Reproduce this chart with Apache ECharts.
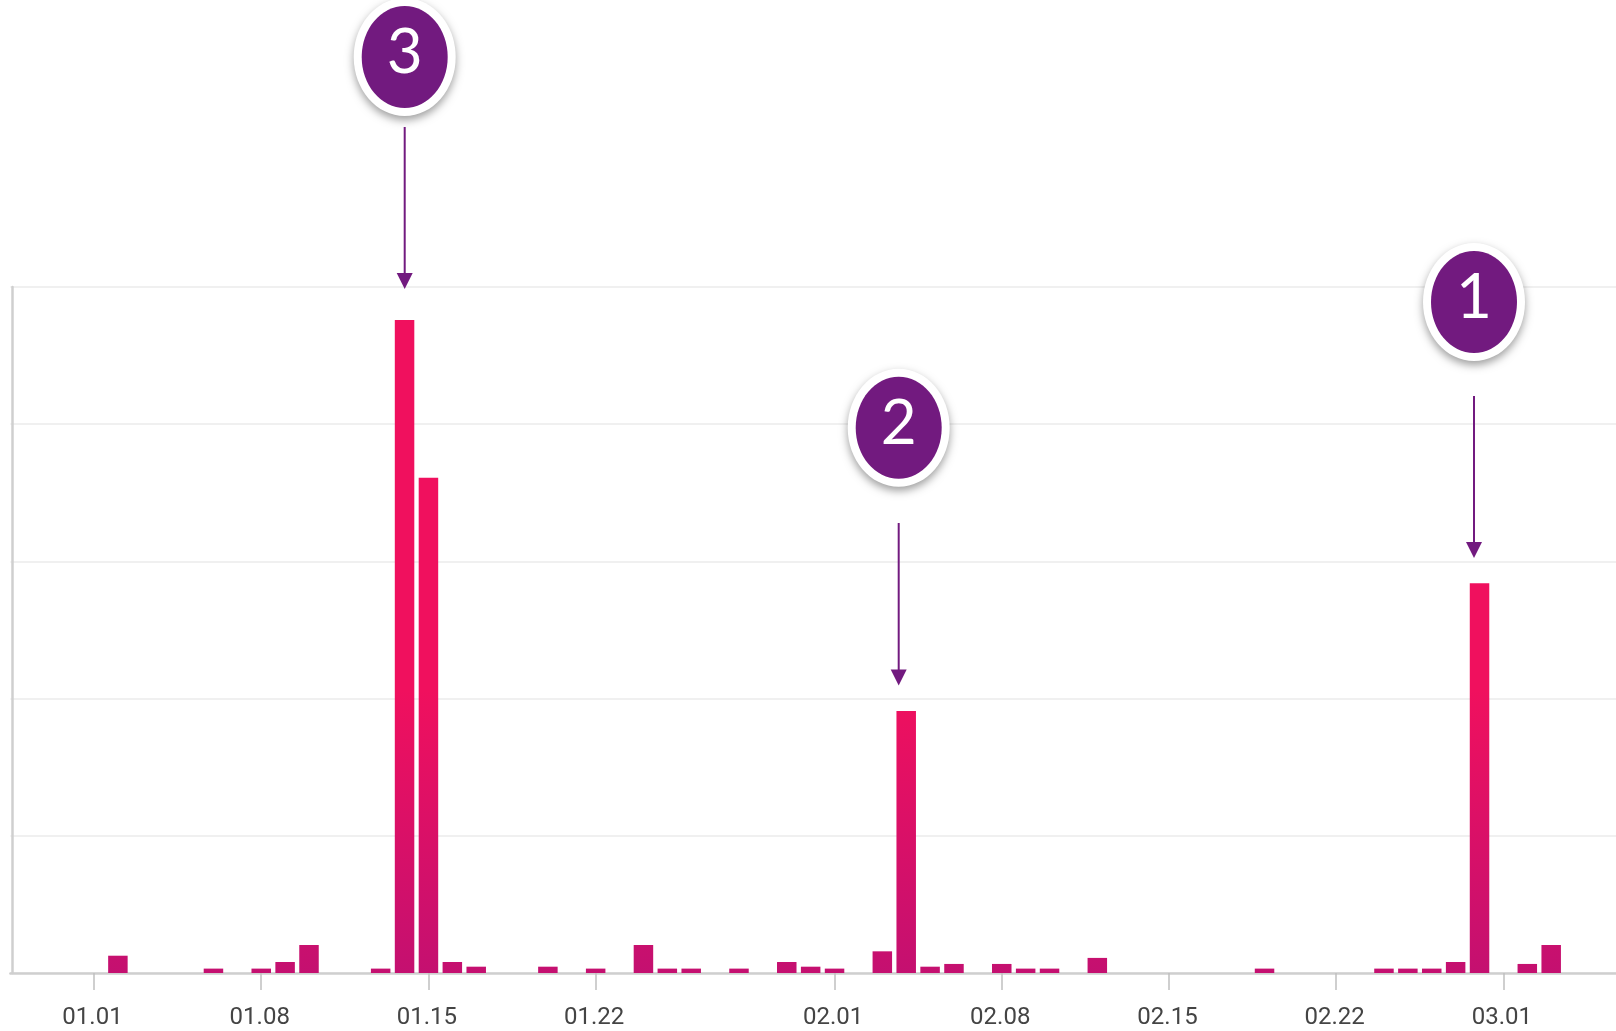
<!DOCTYPE html>
<html>
<head>
<meta charset="utf-8">
<style>html,body{margin:0;padding:0;background:#fff;overflow:hidden}#c{width:1616px;height:1031px}</style>
<script src="https://cdn.jsdelivr.net/npm/echarts@6/dist/echarts.min.js"></script>
</head>
<body>
<div id="c"></div>
<script>
const categories = [
  '12.29','12.30','12.31',
  '01.01','01.02','01.03','01.04','01.05','01.06','01.07','01.08','01.09','01.10',
  '01.11','01.12','01.13','01.14','01.15','01.16','01.17','01.18','01.19','01.20',
  '01.21','01.22','01.23','01.24','01.25','01.26','01.27','01.28','01.29','01.30','01.31',
  '02.01','02.02','02.03','02.04','02.05','02.06','02.07','02.08','02.09','02.10',
  '02.11','02.12','02.13','02.14','02.15','02.16','02.17','02.18','02.19','02.20',
  '02.21','02.22','02.23','02.24','02.25','02.26','02.27','02.28',
  '03.01','03.02','03.03','03.04','03.05','03.06'
];
const values = [
  0,0,0,
  0,12.6,0,0,0,3.2,0,3.2,8,20.4,
  0,0,3.2,476,361,8,4.6,0,0,4.6,
  0,3.2,0,20.4,3.2,3.2,0,3.2,0,8,4.6,
  3.2,0,15.8,191,4.6,6.6,0,6.6,3.2,3.2,
  0,11,0,0,0,0,0,0,3.2,0,
  0,0,0,3.2,3.2,3.2,8,284,
  0,6.6,20.4,0,0,0
];
const tickLabels = ['01.01','01.08','01.15','01.22','02.01','02.08','02.15','02.22','03.01'];
const calloutLabels = ['3','2','1'];

const PURPLE = '#721A7F';
const callouts = [
  {cx:404.7, cy:57,    y1:127, y2:289},
  {cx:898.7, cy:427.7, y1:523, y2:685.5},
  {cx:1474,  cy:302,   y1:396, y2:558}
];
const graphics = [];
callouts.forEach((c,i)=>{
  graphics.push({type:'ellipse',z:100,shape:{cx:c.cx,cy:c.cy,rx:51,ry:59},
    style:{fill:'#fff',shadowBlur:9,shadowColor:'rgba(0,0,0,0.38)',shadowOffsetY:4}});
  graphics.push({type:'ellipse',z:101,shape:{cx:c.cx,cy:c.cy,rx:43,ry:51},style:{fill:PURPLE}});
  graphics.push({type:'text',z:102,x:c.cx,y:c.cy-4,
    style:{text:calloutLabels[i],fill:'#fff',font:'400 62px Lato',align:'center',verticalAlign:'middle'}});
  graphics.push({type:'line',z:100,shape:{x1:c.cx,y1:c.y1,x2:c.cx,y2:c.y2-12},style:{stroke:PURPLE,lineWidth:2}});
  graphics.push({type:'polygon',z:100,shape:{points:[[c.cx-8,c.y2-16],[c.cx+8,c.y2-16],[c.cx,c.y2]]},style:{fill:PURPLE}});
});

const isTick = (i,v)=>tickLabels.includes(v);
const chart = echarts.init(document.getElementById('c'),null,{renderer:'canvas'});
chart.setOption({
  animation:false,
  backgroundColor:'#fff',
  grid:{left:10.4,top:287,width:1624.4,height:686,containLabel:false,outerBoundsMode:'none'},
  xAxis:{
    type:'category',data:categories,boundaryGap:true,
    axisLine:{show:true,lineStyle:{color:'#cfcfcf',width:2.5}},
    axisTick:{show:true,alignWithLabel:true,interval:isTick,length:17,lineStyle:{color:'#c0c0c0',width:1.5}},
    axisLabel:{show:true,interval:isTick,margin:33,padding:[0,3,0,0],color:'#444',fontFamily:'Roboto',fontSize:24,hideOverlap:false},
    splitLine:{show:false}
  },
  yAxis:{
    type:'value',min:0,max:500,interval:100,offset:-2,
    axisLine:{show:true,lineStyle:{color:'#cfcfcf',width:2.5}},
    axisTick:{show:false},axisLabel:{show:false},
    splitLine:{show:true,lineStyle:{color:'#f0f0f0',width:2}}
  },
  series:[{
    type:'bar',data:values,barWidth:19.5,
    itemStyle:{color:new echarts.graphic.LinearGradient(0,690,0,973,[
      {offset:0,color:'#F0105E'},{offset:1,color:'#C41070'}],true)}
  }],
  graphic:graphics
});
</script>
</body>
</html>
